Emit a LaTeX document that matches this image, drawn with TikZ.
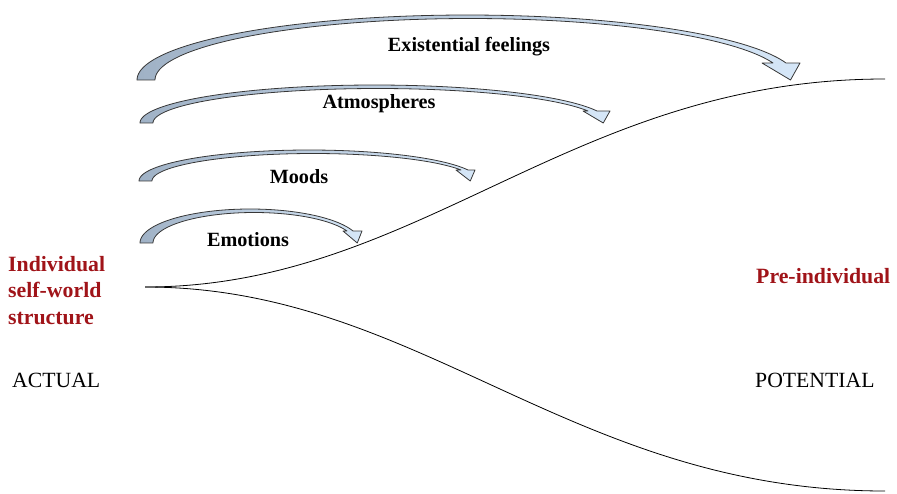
\documentclass[tikz,border=0pt]{standalone}
\usepackage{fontspec}
\setmainfont{Liberation Serif}
\definecolor{darkred}{RGB}{160,20,25}
\definecolor{arrowL}{RGB}{160,178,198}
\definecolor{arrowR}{RGB}{214,231,248}
\definecolor{arrowEdge}{RGB}{55,55,55}
\tikzset{
  curvearrow/.style={left color=arrowL, right color=arrowR, draw=arrowEdge, line width=0.8pt, line join=round},
  arrowlabel/.style={font=\fontsize{20.2}{24}\selectfont\bfseries, anchor=base, inner sep=0pt},
  redlabel/.style={font=\fontsize{21.8}{26.5}\selectfont\bfseries, text=darkred, inner sep=0pt, align=left},
  plainlabel/.style={font=\fontsize{21.7}{26}\selectfont, anchor=base west, inner sep=0pt},
  branch/.style={draw=black, line width=0.8pt}
}
% #1 base y, #2 outer left x, #3 inner left x, #4 outer top y, #5 outer end x,
% #6 head back y, #7 right wing x, #8 inner end x, #9 left wing x
\newcommand\curvedband[9]{%
  \pgfmathsetmacro\cbBo{#1-#4}%
  \pgfmathsetmacro\cbBi{#1-#4-3.5}%
  \pgfmathsetmacro\cbSo{asin((#1-#6)/\cbBo)}%
  \pgfmathsetmacro\cbSi{asin((#1-#6)/\cbBi)}%
  \pgfmathsetmacro\cbAo{(#5-#2)/(1+cos(\cbSo))}%
  \pgfmathsetmacro\cbAi{(#8-#3)/(1+cos(\cbSi))}%
  \pgfmathsetmacro\cbCo{#2+\cbAo}%
  \pgfmathsetmacro\cbCi{#3+\cbAi}%
  \pgfmathsetmacro\cbEo{360-\cbSo}%
  \pgfmathsetmacro\cbEi{360-\cbSi}%
  \pgfmathsetmacro\cbTip{#7-0.25*(#7-#9)}%
  \shadedraw[curvearrow]
    plot[domain=180:\cbEo, samples=90] ({\cbCo+\cbAo*cos(\x)},{#1+\cbBo*sin(\x)})
    -- (#7,#6) -- (\cbTip,#1) -- (#9,#6) --
    plot[domain=0:1, samples=90] ({\cbCi+\cbAi*cos(\cbEi+(180-\cbEi)*\x)},{#1+\cbBi*sin(\cbEi+(180-\cbEi)*\x)})
    -- cycle;
}
\begin{document}
\begin{tikzpicture}[x=1pt,y=-1pt]
\useasboundingbox (0,0) rectangle (897,493);

% curved arrows
\curvedband{80}{137}{155}{15}{786}{63}{800}{773}{762}
\curvedband{123}{140}{153}{85}{597}{111}{610}{588}{583}
\curvedband{181}{139}{152}{150}{468}{170}{475}{461}{456}
\curvedband{243}{140}{153}{209}{353}{231}{362}{347}{343}

% labels on arrows
\node[arrowlabel] (exist) at (469,51) {Existential feelings};
\node[arrowlabel] (atmo) at (379,108) {Atmospheres};
\node[arrowlabel] (moods) at (299,183) {Moods};
\node[arrowlabel] (emo) at (248,246) {Emotions};

% branching curves
\coordinate (origin) at (145,287);
\coordinate (upEnd) at (885,79);
\coordinate (lowEnd) at (885,491);
\draw[branch] (origin) .. controls (420,287) and (570,79) .. (upEnd);
\draw[branch] (origin) .. controls (420,287) and (570,491) .. (lowEnd);

% side labels
\node[redlabel, anchor=north west] (indiv) at (8,256) {Individual\\self-world\\structure};
\node[redlabel, anchor=base west] (preind) at (756,283) {Pre-individual};
\node[plainlabel] (actual) at (12,387) {ACTUAL};
\node[plainlabel] (potential) at (755,387) {POTENTIAL};
\end{tikzpicture}
\end{document}
